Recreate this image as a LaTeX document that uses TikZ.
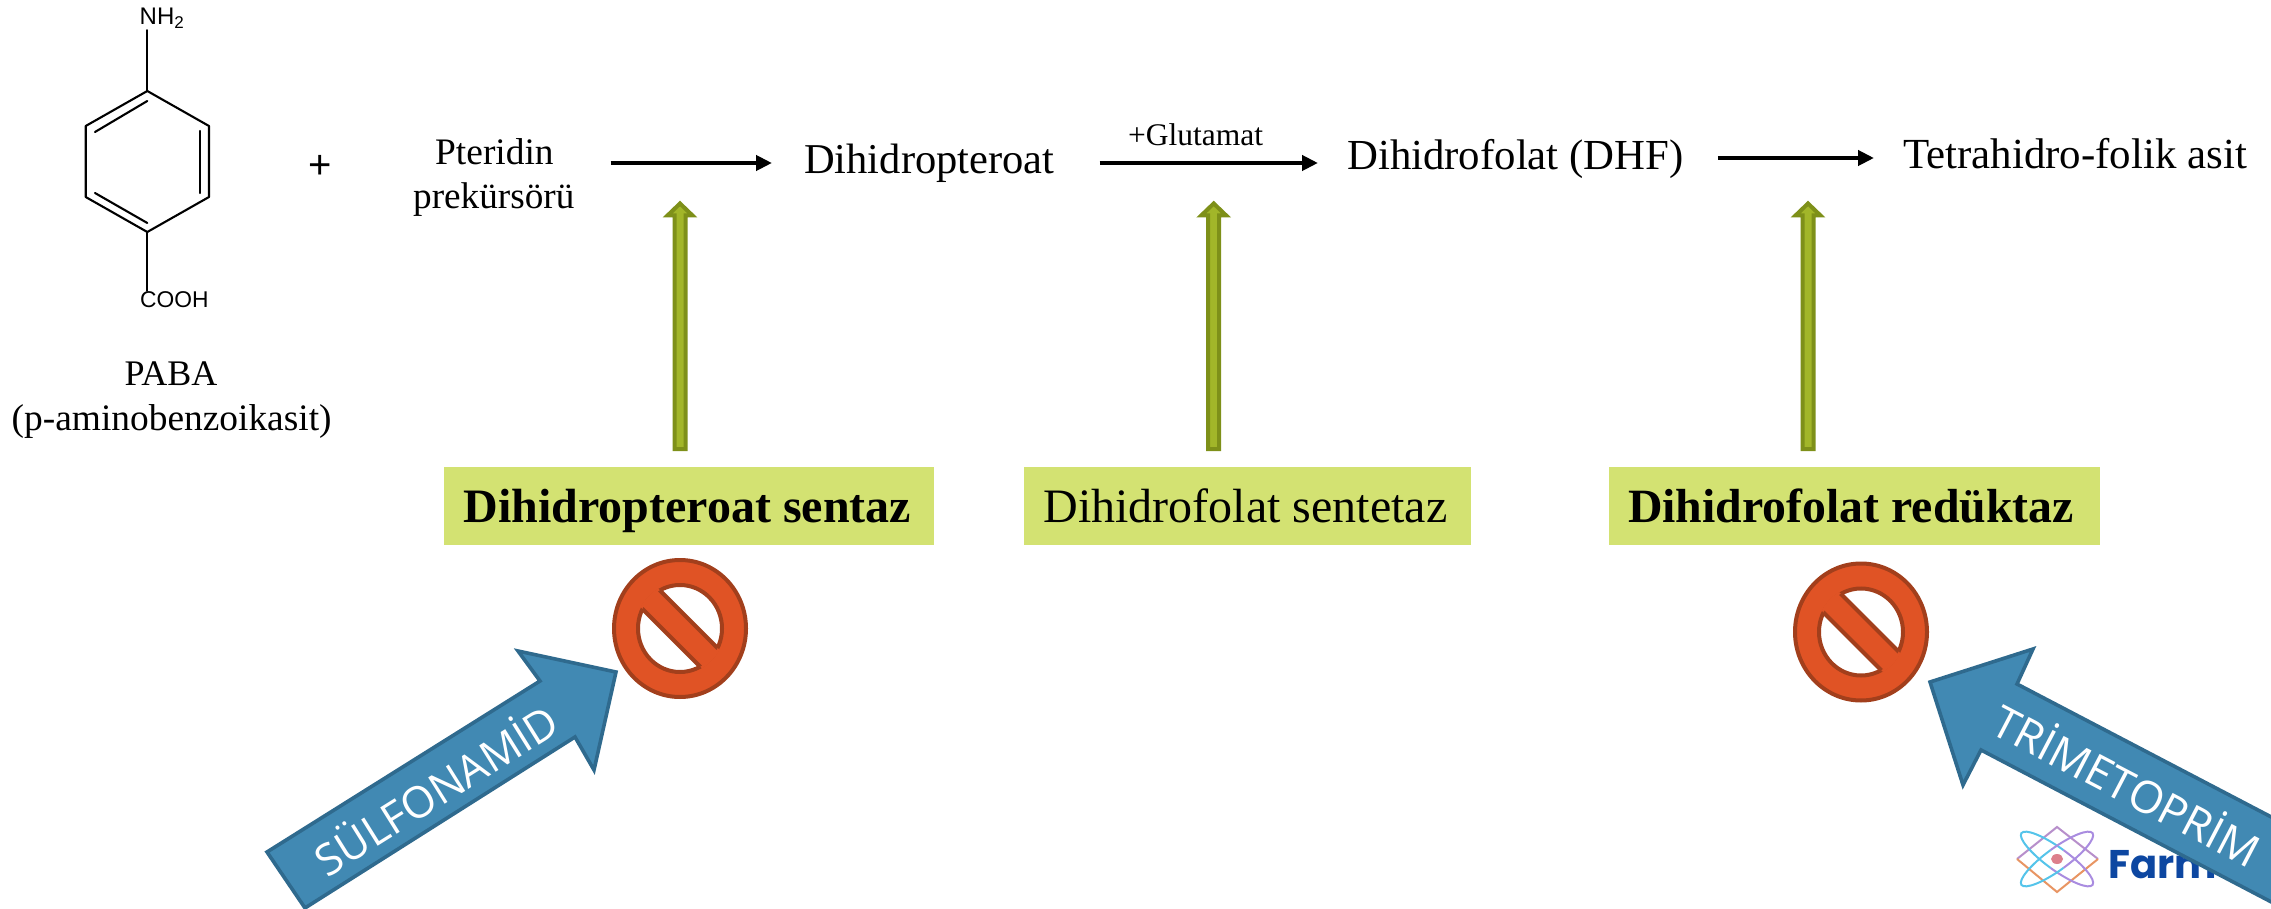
\documentclass[tikz,border=0pt]{standalone}
\usepackage{fontspec}
\setmainfont{Liberation Serif}
\newfontfamily\arialf{Liberation Sans}
\newfontfamily\opens{Open Sans}
\newfontfamily\logof{Poppins}
\usetikzlibrary{arrows.meta,shapes.geometric}
\definecolor{boxgreen}{HTML}{D3E272}
\definecolor{olivefill}{HTML}{A2B629}
\definecolor{oliveedge}{HTML}{7E9019}
\definecolor{stoporange}{HTML}{E05325}
\definecolor{stopedge}{HTML}{A23F1C}
\definecolor{bluefill}{HTML}{4189B3}
\definecolor{blueedge}{HTML}{2F6A8E}
\definecolor{logoblue}{HTML}{0D47A1}
\definecolor{logocyan}{HTML}{55C4EA}
\definecolor{logopurple}{HTML}{A98CE0}
\definecolor{logomauve}{HTML}{B78FCB}
\definecolor{logoorange}{HTML}{E89563}
\definecolor{logored}{HTML}{DD7F8C}
\newcommand{\fsz}[1]{\fontsize{#1}{#1}\selectfont}
\tikzset{
  txt/.style={inner sep=0pt,anchor=base west,text=black},
  bond/.style={line width=2.1pt,line cap=round,line join=round,black},
  rxn/.style={line width=4pt,-{Triangle[length=16pt,width=15pt]},black},
  enzyme/.style={fill=boxgreen,inner sep=0pt,text height=55pt,text depth=23pt,anchor=center},
  olive/.style={fill=olivefill,draw=oliveedge,line width=4pt,line join=miter},
  blueblock/.style={fill=bluefill,draw=blueedge,line width=3.6pt,line join=miter},
  bluetxt/.style={text=white,inner sep=0pt},
  stopring/.style={ellipse,draw=stopedge,fill=stoporange,line width=4pt,inner sep=0pt,minimum width=132pt,minimum height=137pt}
}
\begin{document}
\begin{tikzpicture}[x=1pt,y=-1pt]
\useasboundingbox (0,0) rectangle (2271,909);
\clip (0,0) rectangle (2271,909);
% benzene
\coordinate (v1) at (147.3,91);
\coordinate (v2) at (209,126);
\coordinate (v3) at (209,197);
\coordinate (v4) at (147.3,232);
\coordinate (v5) at (85.7,197);
\coordinate (v6) at (85.7,126);
\node[txt,font=\arialf\fsz{24},inner sep=1pt] (nh2) at (138.5,25) {NH\raisebox{-4pt}{\fsz{17}2}};
\node[txt,font=\arialf\fsz{22.8},inner sep=1pt] (cooh) at (139,308) {COOH};
\draw[bond] (v1) -- (v2) -- (v3) -- (v4) -- (v5) -- (v6) -- cycle;
\draw[bond] (95,132) -- (147.3,101);
\draw[bond] (200,131) -- (200,193);
\draw[bond] (95,193) -- (147.3,223);
\draw[bond] (v1) -- (v1 |- nh2.south);
\draw[bond] (v4) -- (v4 |- cooh.north);
% left labels
\node[txt,font=\fsz{36}] (paba) at (124.5,385) {PABA};
\node[txt,font=\fsz{37.4}] (pabafull) at (11.5,430) {(p-aminobenzoikasit)};
\node[txt,font=\arialf\fsz{40}] (plus) at (308,179) {+};
\node[txt,font=\fsz{37.4}] (pter) at (435,165) {Pteridin};
\node[txt,font=\fsz{37.2}] (prek) at (413,209) {prekürsörü};
% reaction row
\coordinate (r1) at (0,163);
\coordinate (r3) at (0,158);
\node[txt,font=\fsz{42.5}] (dp) at (804,174) {Dihidropteroat};
\node[txt,font=\fsz{42.8}] (dhf) at (1347,170) {Dihidrofolat (DHF)};
\node[txt,font=\fsz{42.9}] (thf) at (1903,169) {Tetrahidro-folik asit};
\node[txt,font=\fsz{31.5}] (glu) at (1128,146) {+Glutamat};
\draw[rxn,shorten <=36pt,shorten >=32pt] (prek.east |- r1) -- (dp.west |- r1);
\draw[rxn,shorten <=45pt,shorten >=29pt] (dp.east |- r1) -- (dhf.west |- r1);
\draw[rxn,shorten <=34pt,shorten >=29pt] (dhf.east |- r3) -- (thf.west |- r3);
% olive block arrows
\foreach \x/\n in {680/a,1213.7/b,1808/c}{
  \draw[olive] (\x-5.5,449) -- (\x-5.5,215.5) -- (\x-12.5,215.5) -- (\x,203.5) -- (\x+12.5,215.5) -- (\x+5.5,215.5) -- (\x+5.5,449) -- cycle;
}
% enzyme boxes
\node[enzyme,minimum width=490pt] (e1) at (689,506) {\fsz{48}\bfseries Dihidropteroat sentaz\hspace*{3pt}};
\node[enzyme,minimum width=447pt] (e2) at (1247.5,506) {\fsz{48}Dihidrofolat sentetaz\hspace*{4pt}};
\node[enzyme,minimum width=491pt] (e3) at (1854.5,506) {\fsz{47.8}\bfseries Dihidrofolat redüktaz\hspace*{7pt}};
% logo
\begin{scope}[line width=2pt]
  \coordinate (lc) at (2057,859);
  \draw[logomauve] (2017,859) -- (2057,827) -- (2098,859);
  \draw[logoorange] (2098,859) -- (2057,892) -- (2017,859);
  \begin{scope}[shift={(lc)},rotate=-36]
    \draw[logocyan] (0,11) arc (90:270:44 and 11);
    \draw[logopurple] (0,-11) arc (-90:90:44 and 11);
  \end{scope}
  \begin{scope}[shift={(lc)},rotate=36]
    \draw[logocyan] (0,11) arc (90:270:44 and 11);
    \draw[logopurple] (0,-11) arc (-90:90:44 and 11);
  \end{scope}
  \fill[logored] (lc) ellipse (6 and 5);
\end{scope}
\node[txt,font=\logof\bfseries\fsz{40},text=logoblue] (farm) at (2108,878) {Farm};
% stop signs
\foreach \n/\cx/\cy in {s1/680/628.5,s2/1861/632}{
  \node[stopring] (\n) at (\cx,\cy) {};
  \begin{scope}[shift={(\cx,\cy)}]
    \fill[white,draw=stopedge,line width=4pt] (0,0) ellipse (42 and 43.5);
    \begin{scope}
      \clip (0,0) ellipse (44.5 and 46);
      \fill[stoporange] (-58,-40) -- (-40,-58) -- (58,40) -- (40,58) -- cycle;
    \end{scope}
    \begin{scope}
      \clip (0,0) ellipse (42 and 43.5);
      \draw[stopedge,line width=4pt] (-58,-40) -- (40,58);
      \draw[stopedge,line width=4pt] (-40,-58) -- (58,40);
    \end{scope}
  \end{scope}
}
% blue block arrows
\draw[blueblock] (267,852) -- (540,681) -- (518,651) -- (616,672) -- (594,770) -- (575,737) -- (305,908) -- cycle;
\node[bluetxt,rotate=32,font=\opens\fsz{43.5}] (sulfa) at (434.6,788) {SÜLFONAMİD};
\draw[blueblock] (1930,682) -- (2033,649) -- (2017,684) -- (2300,832) -- (2300,917) -- (1981,750) -- (1963,785) -- cycle;
\node[bluetxt,rotate=-27.6,font=\opens\fsz{44.5}] (tmp) at (2128,783) {TRİMETOPRİM};
\end{tikzpicture}
\end{document}
